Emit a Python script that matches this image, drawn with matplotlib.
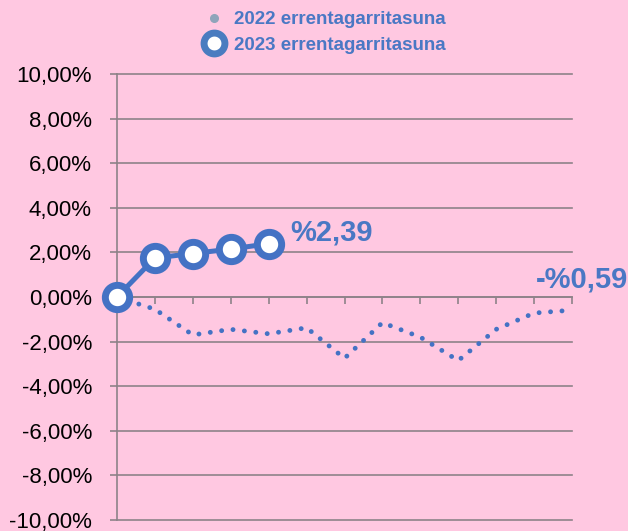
import matplotlib
matplotlib.use("Agg")
import matplotlib.pyplot as plt
from matplotlib.lines import Line2D
from matplotlib.ticker import FixedLocator, FuncFormatter

# ---- data ----
months = list(range(13))
rent_2022 = [0.0, -0.55, -1.7, -1.45, -1.65, -1.38, -2.75, -1.15, -1.8, -2.85, -1.45, -0.72, -0.59]
months_2023 = [0, 1, 2, 3, 4]
rent_2023 = [0.0, 1.75, 1.95, 2.15, 2.39]
y_ticks = [-10, -8, -6, -4, -2, 0, 2, 4, 6, 8, 10]
label_2022 = "2022 errentagarritasuna"
label_2023 = "2023 errentagarritasuna"
end_label_2023 = "%2,39"
end_label_2022 = "-%0,59"

BG = "#FFC8E1"
BLUE = "#4472C4"
TEXT_BLUE = "#4A78C4"
GRID = "#8E8389"

plt.rcParams['font.family'] = ['Liberation Sans', 'DejaVu Sans']

fig = plt.figure(figsize=(6.28, 5.31), dpi=100)
fig.patch.set_facecolor(BG)
ax = fig.add_axes([117/628, 11/531, (572-117)/628, (520-74)/531])
ax.set_facecolor(BG)

ax.set_xlim(0, 12)
ax.set_ylim(-10, 10)

# grid
ax.yaxis.set_major_locator(FixedLocator(y_ticks))
ax.yaxis.set_major_formatter(FuncFormatter(lambda v, p: f"{v:.2f}".replace('.', ',') + "%"))
ax.yaxis.grid(True, color=GRID, linewidth=1.2, zorder=0)
for gl in ax.get_ygridlines():
    gl.set_clip_on(False)
ax.set_axisbelow(True)

for s in ['top', 'right']:
    ax.spines[s].set_visible(False)
ax.spines['left'].set_color(GRID)
ax.spines['left'].set_linewidth(1.2)
ax.spines['bottom'].set_position(('data', 0))
ax.spines['bottom'].set_color(GRID)
ax.spines['bottom'].set_linewidth(1.2)

ax.set_xticks(months)
ax.set_xticklabels([])
ax.tick_params(axis='x', direction='out', length=5, width=1.2, color=GRID)
ax.tick_params(axis='y', direction='out', length=5, width=1.2, color=GRID,
               labelsize=16, labelcolor='black', pad=13)

# 2022 dotted line
ax.plot(months, rent_2022, color=BLUE, linewidth=3.5, linestyle=(0, (0.01, 2.35)),
        dash_capstyle='round', zorder=3, clip_on=False)

# 2023 line with markers
ax.plot(months_2023, rent_2023, color=BLUE, linewidth=3.6, marker='o', markersize=17.5,
        markerfacecolor='white', markeredgecolor=BLUE, markeredgewidth=5,
        zorder=4, clip_on=False)

# end labels
ax.text(4.56, 2.9, end_label_2023, color=TEXT_BLUE, fontsize=21, fontweight='bold',
        ha='left', va='center')
ax.text(11.06, 0.8, end_label_2022, color=TEXT_BLUE, fontsize=21, fontweight='bold',
        ha='left', va='center', clip_on=False)

# legend
h22 = Line2D([], [], linestyle='none', marker='o', markersize=5.5, color='#8FA4BA')
h23 = Line2D([], [], linestyle='none', marker='o', markersize=15, markerfacecolor='white',
             markeredgecolor='#4A7CC0', markeredgewidth=5)
leg = fig.legend([h22, h23], [label_2022, label_2023], loc='upper center',
                 bbox_to_anchor=(325/628, 1.0 + 4/531), frameon=False,
                 prop={'family': 'Liberation Sans', 'weight': 'bold', 'size': 13.5},
                 labelcolor=TEXT_BLUE, handlelength=1.0, handletextpad=0.6,
                 labelspacing=0.45, borderpad=0.3)

fig.savefig("out.png", dpi=100, facecolor=BG)
